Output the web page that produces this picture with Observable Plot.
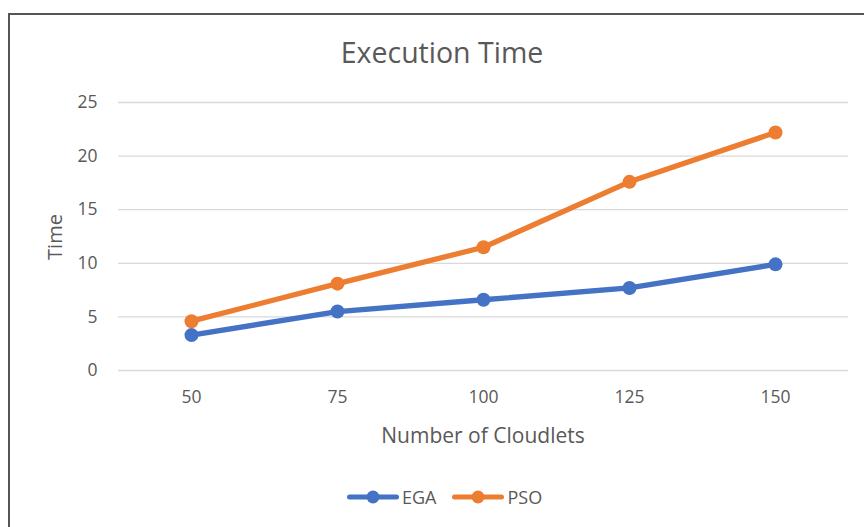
<!DOCTYPE html>
<html>
<head>
<meta charset="utf-8">
<script src="https://cdn.jsdelivr.net/npm/d3@7"></script>
<script src="https://cdn.jsdelivr.net/npm/@observablehq/plot@0.6"></script>
<style>
  html, body { margin: 0; padding: 0; background: #fff; overflow: hidden; }
  #wrap { position: relative; width: 864px; height: 527px; overflow: hidden; font-family: "Open Sans", sans-serif; color: #595959; }
  #frame { position: absolute; left: 8px; top: 13px; width: 900px; height: 600px; border-top: 2px solid #555; border-left: 2px solid #555; box-sizing: border-box; }
  #title { position: absolute; left: 0; width: 884px; top: 32px; text-align: center; font-size: 28.5px; line-height: 40px; }
  #xlabel { position: absolute; left: 0; width: 966px; top: 421px; text-align: center; font-size: 21px; line-height: 28px; }
  #ylabel { position: absolute; left: 55px; top: 237px; transform: translate(-50%, -50%) rotate(-90deg); font-size: 20px; line-height: 28px; white-space: nowrap; }
  #legend { position: absolute; top: 483px; left: 347px; display: flex; align-items: center; font-size: 18px; line-height: 28px; }
  .item { display: flex; align-items: center; margin-right: 16px; }
  .item span { margin-left: 3px; }
  #chart { position: absolute; left: 0; top: 0; }
  #chart svg text { font-size: 17.5px !important; }
</style>
</head>
<body>
<div id="wrap">
  <div id="chart"></div>
  <div id="frame"></div>
  <div id="title"></div>
  <div id="ylabel"></div>
  <div id="xlabel"></div>
  <div id="legend"></div>
</div>
<script>
const title = "Execution Time";
const xTitle = "Number of Cloudlets";
const yTitle = "Time";
const categories = ["50", "75", "100", "125", "150"];
const yTicks = [0, 5, 10, 15, 20, 25];
const seriesNames = ["EGA", "PSO"];
const seriesColors = ["#4472C4", "#ED7D31"];
const egaValues = [3.3, 5.5, 6.6, 7.7, 9.9];
const psoValues = [4.6, 8.1, 11.5, 17.6, 22.2];

const data = [];
categories.forEach((c, i) => {
  data.push({series: "EGA", x: c, y: egaValues[i]});
  data.push({series: "PSO", x: c, y: psoValues[i]});
});

const chart = Plot.plot({
  width: 864,
  height: 527,
  marginLeft: 118,
  marginRight: 16,
  marginTop: 102,
  marginBottom: 157,
  style: {fontFamily: "Open Sans, sans-serif", fontSize: "17.5px", color: "#595959", background: "transparent"},
  x: {type: "point", domain: categories, padding: 0.5, label: null},
  y: {domain: [0, 25], label: null},
  color: {domain: seriesNames, range: seriesColors},
  marks: [
    Plot.gridY(yTicks, {stroke: "#d9d9d9", strokeOpacity: 1, strokeWidth: 1.3}),
    Plot.axisY(yTicks, {tickSize: 0, tickPadding: 21, fill: "#595959", label: null}),
    Plot.axisX(categories, {tickSize: 0, tickPadding: 20, fill: "#595959", label: null}),
    Plot.lineY(data, {x: "x", y: "y", z: "series", stroke: "series", strokeWidth: 5.3, strokeLinecap: "round", strokeLinejoin: "round"}),
    Plot.dot(data, {x: "x", y: "y", fill: "series", r: 7, stroke: null})
  ]
});
document.getElementById("chart").appendChild(chart);

document.getElementById("title").textContent = title;
document.getElementById("xlabel").textContent = xTitle;
document.getElementById("ylabel").textContent = yTitle;

const legend = document.getElementById("legend");
seriesNames.forEach((name, i) => {
  const item = document.createElement("div");
  item.className = "item";
  const ns = "http://www.w3.org/2000/svg";
  const svg = document.createElementNS(ns, "svg");
  svg.setAttribute("width", 52); svg.setAttribute("height", 14);
  const line = document.createElementNS(ns, "line");
  line.setAttribute("x1", 2.5); line.setAttribute("x2", 49.5); line.setAttribute("y1", 7); line.setAttribute("y2", 7);
  line.setAttribute("stroke", seriesColors[i]); line.setAttribute("stroke-width", 5); line.setAttribute("stroke-linecap", "round");
  const c = document.createElementNS(ns, "circle");
  c.setAttribute("cx", 26); c.setAttribute("cy", 7); c.setAttribute("r", 6.5); c.setAttribute("fill", seriesColors[i]);
  svg.appendChild(line); svg.appendChild(c);
  const span = document.createElement("span");
  span.textContent = name;
  item.appendChild(svg); item.appendChild(span);
  legend.appendChild(item);
});
</script>
</body>
</html>
